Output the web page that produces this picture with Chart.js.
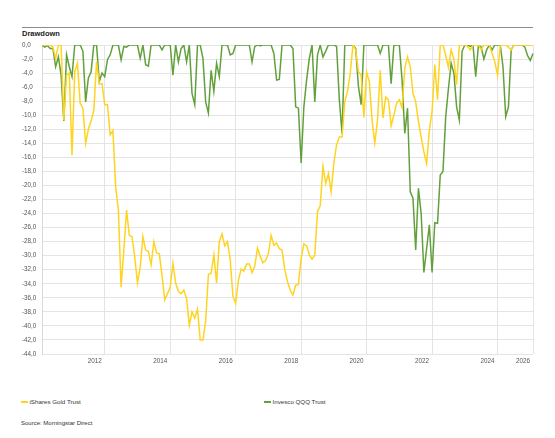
<!DOCTYPE html>
<html>
<head>
<meta charset="utf-8">
<script src="https://cdn.jsdelivr.net/npm/chart.js@4.4.1/dist/chart.umd.min.js"></script>
<style>
  body { margin: 0; width: 555px; height: 438px; background: #fff; position: relative; overflow: hidden;
         font-family: "Liberation Sans", Arial, sans-serif; color: #333; }
  .rule { position: absolute; left: 22px; top: 26.5px; width: 511px; height: 1.5px; background: #8c8c8c; }
  .title { position: absolute; left: 22px; top: 29.5px; font-size: 7.5px; line-height: 7.5px; font-weight: bold; color: #222; }
  .chart-box { position: absolute; left: 0; top: 0; width: 555px; height: 370px; }
  .legend-item { position: absolute; top: 399px; font-size: 6.2px; line-height: 6px; white-space: nowrap; }
  .swatch { display: inline-block; width: 7px; height: 1.5px; vertical-align: middle; margin-right: 1.5px; margin-top: -1px; }
  .source { position: absolute; left: 21px; top: 420px; font-size: 6px; line-height: 6px; }
</style>
</head>
<body>
<div class="rule"></div>
<div class="title">Drawdown</div>
<div class="chart-box"><canvas id="dd-chart"></canvas></div>
<div class="legend-item" style="left:21px"><span class="swatch" style="background:#ffd420"></span>iShares Gold Trust</div>
<div class="legend-item" style="left:264px"><span class="swatch" style="background:#62a03c"></span>Invesco QQQ Trust</div>
<div class="source">Source: Morningstar Direct</div>
<script>
// Month-end categories, Jan 2011 .. Jan 2026
const months = [];
for (let y = 2011; y <= 2026; y++) {
  for (let m = 1; m <= 12; m++) {
    if (y === 2026 && m > 1) break;
    months.push(y + "-" + String(m).padStart(2, "0"));
  }
}

// Year gridlines sit at year end, last one at the end of the axis
const tickMonths = ["2012-12", "2014-12", "2016-12", "2018-12", "2020-12", "2022-12", "2024-12", "2026-01"];
const tickLabels = ["2012", "2014", "2016", "2018", "2020", "2022", "2024", "2026"];

// Drawdown (%)
const goldDrawdown = [
  0, 0, 0, 0, -0.3, -1.9, 0, 0, -10.7, -4.3, -4.0, -15.7,
  -3.8, -2.6, -8.3, -9.0, -14.0, -12.0, -10.8, -9.3, -2.4, -5.5, -5.5, -8.5,
  -8.5, -12.8, -12.2, -20.2, -23.5, -34.5, -29.2, -23.5, -27.1, -27.3, -30.2, -33.9,
  -31.6, -27.3, -29.2, -29.4, -31.3, -28.0, -29.6, -29.7, -32.8, -36.3, -35.4, -34.5,
  -31.1, -33.9, -35.1, -35.4, -34.9, -36.1, -39.9, -38.0, -38.9, -37.6, -42.0, -42.0,
  -39.3, -32.7, -32.5, -29.9, -33.9, -28.0, -26.9, -28.6, -28.0, -30.6, -35.8, -36.8,
  -33.5, -31.9, -32.2, -31.2, -31.2, -32.4, -31.5, -28.9, -30.1, -31.0, -30.7, -29.7,
  -27.1, -28.5, -28.2, -29.0, -29.2, -32.0, -33.7, -34.9, -35.6, -34.2, -34.1, -30.4,
  -28.3, -28.6, -29.9, -30.5, -29.9, -23.7, -22.9, -17.3, -19.7, -18.3, -20.9, -16.8,
  -14.2, -13.1, -13.1, -8.1, -6.6, -4.0, 0, -0.7, -3.8, -4.3, -10.3, -3.9,
  -5.2, -10.7, -14.0, -10.7, -3.6, -10.4, -7.4, -7.8, -11.5, -10.0, -8.3, -7.8,
  -8.9, -3.3, -1.7, -3.1, -6.9, -8.1, -10.9, -13.1, -15.2, -16.9, -12.1, -9.5,
  -2.8, -7.8, 0, 0, -1.5, -3.2, -0.7, -2.0, -5.6, 0, 0, 0,
  -0.2, -0.7, 0, 0, 0, -0.7, 0, 0, 0, -1.2, -2.4, -4.3,
  0, 0, 0, -0.3, -0.7, 0, 0, 0, 0, 0, 0, 0,
  0
];

const qqqDrawdown = [
  0, -0.3, -0.1, -0.5, -0.5, -3.1, -1.7, -4.3, -10.8, -1.4, -3.1, -4.5,
  0, 0, 0, -0.9, -8.1, -4.7, -3.8, 0, 0, -5.2, -4.0, -4.5,
  -2.1, -1.4, 0, 0, 0, -2.1, -0.2, -0.3, 0, 0, 0, 0,
  -1.9, 0, -2.8, -3.0, 0, 0, 0, 0, -0.7, 0, 0, 0,
  -4.3, 0, -2.4, -0.5, 0, -2.4, 0, -6.9, -8.5, 0, 0, -1.9,
  -8.1, -9.7, -3.6, -6.6, -2.6, -4.5, 0, 0, 0, -1.4, -1.2, 0,
  0, 0, 0, 0, 0, -2.4, -0.2, 0, -0.1, 0, 0, 0,
  0, -1.2, -5.0, -4.9, 0, 0, 0, 0, -0.5, -8.8, -9.0, -16.8,
  -8.8, -5.0, -1.9, 0, -8.1, -1.4, 0, -1.7, -0.9, 0, 0, 0,
  -0.2, -7.8, -12.6, 0, 0, 0, 0, -0.5, -5.9, -8.5, 0, 0,
  0, 0, 0, 0, -1.2, 0, 0, 0, -5.5, 0, 0, 0,
  -5.0, -12.6, -9.0, -20.9, -21.8, -29.2, -20.4, -24.0, -32.4, -29.0, -25.6, -32.4,
  -25.3, -25.4, -18.5, -18.0, -10.2, -6.2, -2.6, -4.0, -8.8, -10.7, -0.9, 0,
  0, -0.2, 0, -4.5, 0, -0.3, -2.0, -0.7, 0, -0.7, 0, 0,
  0, -3.1, -10.2, -8.8, -0.7, 0, 0, 0, 0, -0.3, -1.5, -2.2,
  -1.2
];

const seriesNames = ["iShares Gold Trust", "Invesco QQQ Trust"];

const gridColor = "#e4e4e4";
const tickColor = "#555";

Chart.defaults.font.family = "'Liberation Sans', Arial, sans-serif";
Chart.defaults.font.size = 6.3;

function formatComma(v) {
  return v.toFixed(1).replace(".", ",");
}

const ctx = document.getElementById("dd-chart").getContext("2d");
const ddChart = new Chart(ctx, {
  type: "line",
  data: {
    labels: months,
    datasets: [
      {
        label: seriesNames[0],
        data: goldDrawdown,
        borderColor: "#ffd420",
        borderWidth: 1.5,
        pointRadius: 0,
        tension: 0,
      },
      {
        label: seriesNames[1],
        data: qqqDrawdown,
        borderColor: "#62a03c",
        borderWidth: 1.5,
        pointRadius: 0,
        tension: 0,
      },
    ],
  },
  options: {
    responsive: true,
    maintainAspectRatio: false,
    animation: false,
    layout: { padding: { left: 22, right: 22, top: 45, bottom: 2 } },
    plugins: {
      legend: { display: false },
      tooltip: { enabled: false },
    },
    scales: {
      x: {
        type: "category",
        offset: false,
        afterFit: (s) => { s.height = 14; },
        grid: {
          color: (c) => (tickMonths.includes(months[c.index]) ? gridColor : "transparent"),
          drawTicks: false,
        },
        border: { display: false },
        ticks: {
          autoSkip: false,
          maxRotation: 0,
          padding: 3,
          labelOffset: -10,
          color: tickColor,
          callback: function (value, index) {
            const k = tickMonths.indexOf(months[index]);
            return k >= 0 ? tickLabels[k] : "";
          },
        },
      },
      y: {
        min: -44,
        max: 0,
        afterFit: (s) => { s.width = 20; },
        grid: { color: gridColor, drawTicks: false },
        border: { display: true, color: "#d8d8d8" },
        ticks: {
          stepSize: 2,
          autoSkip: false,
          crossAlign: "far",
          padding: 2,
          color: tickColor,
          callback: (v) => formatComma(v),
        },
      },
    },
  },
});
</script>
</body>
</html>
